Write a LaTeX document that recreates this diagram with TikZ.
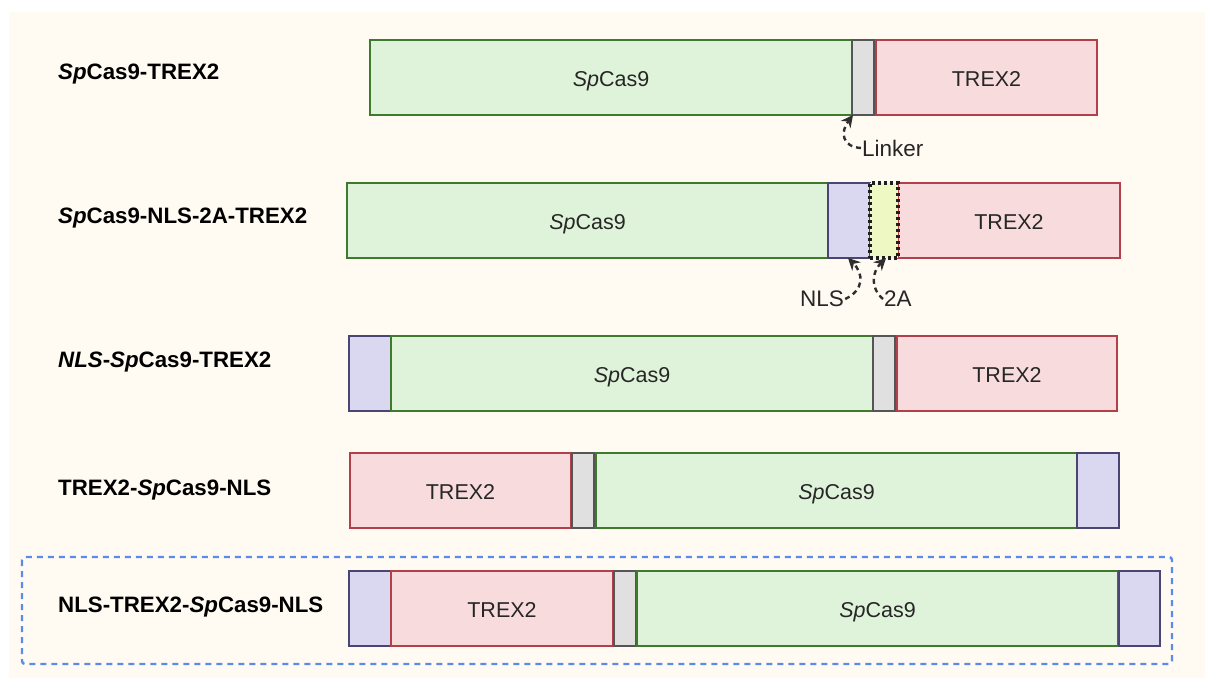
\documentclass[tikz,border=0pt]{standalone}
\usepackage{fontspec}
\setmainfont{Liberation Sans}
\usetikzlibrary{arrows.meta}

\definecolor{cream}{HTML}{FFFBF3}
\definecolor{casfill}{HTML}{DFF2DA}
\definecolor{casdraw}{HTML}{3E7A2C}
\definecolor{trexfill}{HTML}{F8DCDD}
\definecolor{trexdraw}{HTML}{B2404A}
\definecolor{lnkfill}{HTML}{E0E0E0}
\definecolor{lnkdraw}{HTML}{555555}
\definecolor{nlsfill}{HTML}{DAD8F0}
\definecolor{nlsdraw}{HTML}{4A4572}
\definecolor{tafill}{HTML}{EEF8C2}
\definecolor{tadraw}{HTML}{1E1E1E}
\definecolor{frameblue}{HTML}{5B8AE8}
\definecolor{arrowgray}{HTML}{2E2E2E}

\tikzset{
  seg/.style={draw, line width=2.6pt, inner sep=0pt, outer sep=0pt,
    anchor=north west, minimum height=75pt, text depth=0pt,
    font=\fontsize{21.5}{25}\selectfont, text=black!85},
  cas/.style={seg, fill=casfill, draw=casdraw},
  trex/.style={seg, fill=trexfill, draw=trexdraw},
  lnk/.style={seg, fill=lnkfill, draw=lnkdraw},
  nls/.style={seg, fill=nlsfill, draw=nlsdraw},
  twoa/.style={seg, fill=tafill, draw=tadraw, line width=3.2pt,
    dash pattern=on 3pt off 3pt},
  rowlabel/.style={anchor=west, inner sep=0pt, font=\fontsize{22.3}{26}\selectfont\bfseries},
  note/.style={anchor=west, inner sep=1pt, font=\fontsize{22.5}{26}\selectfont, text=black!85},
  conn/.style={draw=arrowgray, line width=2.4pt, dash pattern=on 5pt off 4pt,
    -{Stealth[length=12pt,width=12pt]}},
  frame/.style={draw=frameblue, line width=2.4pt, dash pattern=on 6pt off 5pt, rounded corners=3pt}
}

% one construct segment: name, style, left x, right x, top y, text
\newcommand\segm[6]{\node[#2, minimum width={(#4-#3)*1pt}] (#1) at (#3,#5) {\raisebox{-3pt}{#6}};}

\begin{document}
\begin{tikzpicture}[x=1pt,y=-1pt]
  \useasboundingbox (0,0) rectangle (1205,678);
  \fill[white] (0,0) rectangle (1205,678);
  \fill[cream] (9,12) rectangle (1205,678);

  % SpCas9-TREX2
  \node[rowlabel] (l1) at (58,74) {\textit{Sp}Cas9-TREX2};
  \segm{r1cas}{cas}{370}{852}{40}{\textit{Sp}Cas9}
  \segm{r1lnk}{lnk}{852}{874}{40}{}
  \segm{r1trex}{trex}{876}{1097}{40}{TREX2}
  \node[note] (lnklab) at (861,148) {Linker};
  \draw[conn] (lnklab.west) .. controls (842,147) and (840,132) .. ([xshift=1pt]r1lnk.south west);

  % SpCas9-NLS-2A-TREX2
  \node[rowlabel] (l2) at (58,218) {\textit{Sp}Cas9-NLS-2A-TREX2};
  \segm{r2cas}{cas}{347}{828}{183}{\textit{Sp}Cas9}
  \segm{r2nls}{nls}{828}{870}{183}{}
  \segm{r2trex}{trex}{898}{1120}{183}{TREX2}
  \segm{r2ta}{twoa}{870}{898}{183}{}
  \node[note] (nlslab) at (799,299) {NLS};
  \node[note] (talab) at (883,299) {2A};
  \draw[conn] (nlslab.east) .. controls (864,290) and (864,274) .. ([xshift=20pt]r2nls.south west);
  \draw[conn] (talab.west) .. controls (870,288) and (872,272) .. ([xshift=2pt]r2ta.south);

  % NLS-SpCas9-TREX2
  \node[rowlabel] (l3) at (58,362) {\textit{NLS}-\textit{Sp}Cas9-TREX2};
  \segm{r3nls}{nls}{349}{391}{336}{}
  \segm{r3cas}{cas}{391}{873}{336}{\textit{Sp}Cas9}
  \segm{r3lnk}{lnk}{873}{895}{336}{}
  \segm{r3trex}{trex}{897}{1117}{336}{TREX2}

  % TREX2-SpCas9-NLS
  \node[rowlabel] (l4) at (58,490) {TREX2-\textit{Sp}Cas9-NLS};
  \segm{r4trex}{trex}{350}{571}{453}{TREX2}
  \segm{r4lnk}{lnk}{572}{594}{453}{}
  \segm{r4cas}{cas}{596}{1077}{453}{\textit{Sp}Cas9}
  \segm{r4nls}{nls}{1077}{1119}{453}{}

  % NLS-TREX2-SpCas9-NLS, highlighted
  \draw[frame] (22,557) rectangle (1172,664);
  \node[rowlabel] (l5) at (58,607) {NLS-TREX2-\textit{Sp}Cas9-NLS};
  \segm{r5nlsa}{nls}{349}{391}{571}{}
  \segm{r5trex}{trex}{391}{613}{571}{TREX2}
  \segm{r5lnk}{lnk}{614}{636}{571}{}
  \segm{r5cas}{cas}{637}{1118}{571}{\textit{Sp}Cas9}
  \segm{r5nlsb}{nls}{1119}{1160}{571}{}
\end{tikzpicture}
\end{document}
